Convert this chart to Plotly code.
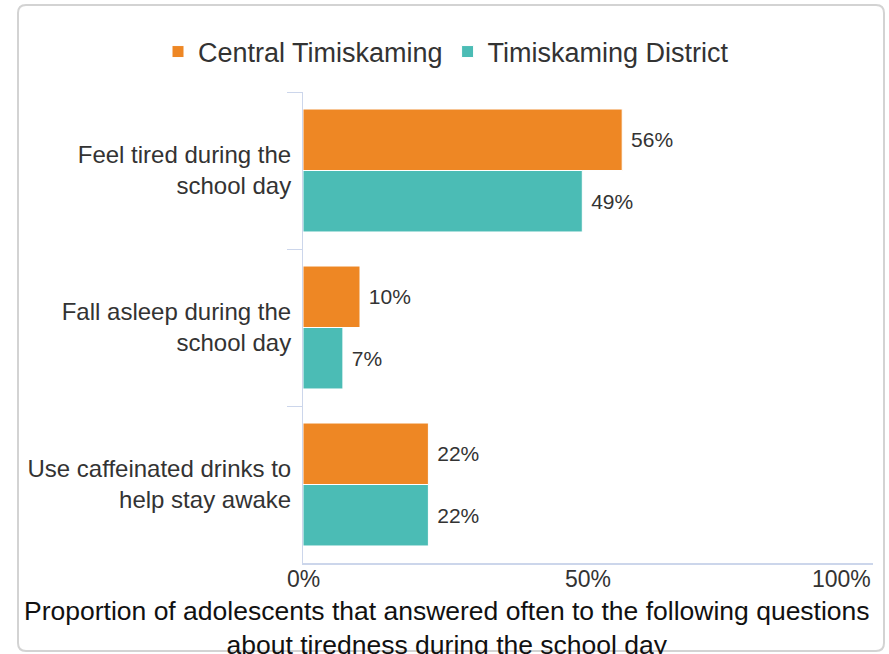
import plotly.graph_objects as go

# data
categories = ["Feel tired during the<br>school day",
              "Fall asleep during the<br>school day",
              "Use caffeinated drinks to<br>help stay awake"]
central = [56, 10, 22]
district = [49, 7, 22]
series_names = ["Central Timiskaming", "Timiskaming District"]
tick_vals = [0, 50, 100]
tick_text = ["0%", "50%", "100%"]
title_text = ("Proportion of adolescents that answered often to the following questions"
              "<br>about tiredness during the school day")

W, H = 889, 654
L, R, T, B = 303, 16, 92, 91
FONT = "Liberation Sans, Arial, Helvetica, sans-serif"

def px(x):
    return (x - L) / (W - L - R)

def py(y):
    return (H - B - y) / (H - T - B)

fig = go.Figure()
fig.add_trace(go.Bar(y=categories, x=central, name=series_names[0], orientation="h",
                     marker=dict(color="#EE8724", line=dict(color="white", width=1)),
                     texttemplate=" %{x}%", textposition="outside", cliponaxis=False,
                     textfont=dict(size=21, color="#333333")))
fig.add_trace(go.Bar(y=categories, x=district, name=series_names[1], orientation="h",
                     marker=dict(color="#4BBCB5", line=dict(color="white", width=1)),
                     texttemplate=" %{x}%", textposition="outside", cliponaxis=False,
                     textfont=dict(size=21, color="#333333")))

# x tick labels as annotations so the last one can sit inside the frame
anchors = ["center", "center", "right"]
for v, t, a in zip(tick_vals, tick_text, anchors):
    fig.add_annotation(x=v, y=0, xref="x", yref="paper", text=t, showarrow=False,
                       xanchor=a, yanchor="top", yshift=-1,
                       font=dict(family=FONT, size=23, color="#333333"))

fig.add_annotation(x=px(447), y=py(594), xref="paper", yref="paper", text=title_text,
                   showarrow=False, xanchor="center", yanchor="top",
                   font=dict(family=FONT, size=26.5, color="#111111"))

# rounded frame
x0, x1, y0, y1 = px(18), px(884), py(651), py(5)
rx, ry = 8 / (W - L - R), 8 / (H - T - B)
path = (f"M {x0+rx},{y1} L {x1-rx},{y1} Q {x1},{y1} {x1},{y1-ry} "
        f"L {x1},{y0+ry} Q {x1},{y0} {x1-rx},{y0} "
        f"L {x0+rx},{y0} Q {x0},{y0} {x0},{y0+ry} "
        f"L {x0},{y1-ry} Q {x0},{y1} {x0+rx},{y1} Z")
fig.add_shape(type="path", path=path, xref="paper", yref="paper",
              line=dict(color="#d3d3d3", width=2), layer="below")

fig.update_layout(
    width=W, height=H,
    margin=dict(l=L, r=R, t=T, b=B),
    paper_bgcolor="white", plot_bgcolor="white",
    barmode="group", bargap=0.217, bargroupgap=0,
    font=dict(family=FONT, color="#333333"),
    showlegend=True,
    legend=dict(orientation="h", x=px(158), y=py(52), xanchor="left", yanchor="middle",
                font=dict(size=27, color="#333333"), itemwidth=30,
                traceorder="normal"),
    xaxis=dict(range=[0, 100], showticklabels=False, showgrid=False, zeroline=False,
               showline=True, linecolor="#ccd6eb", linewidth=2, ticks=""),
    yaxis=dict(autorange="reversed", showgrid=False, showline=True, linecolor="#ccd6eb",
               linewidth=1, ticks="outside", tickson="boundaries", ticklen=15,
               tickcolor="#ccd6eb", ticklabelstandoff=6,
               tickfont=dict(size=24, color="#333333")),
)

fig.write_html("out.html", config={"displayModeBar": False},
               post_script="document.body.style.margin='0';")
